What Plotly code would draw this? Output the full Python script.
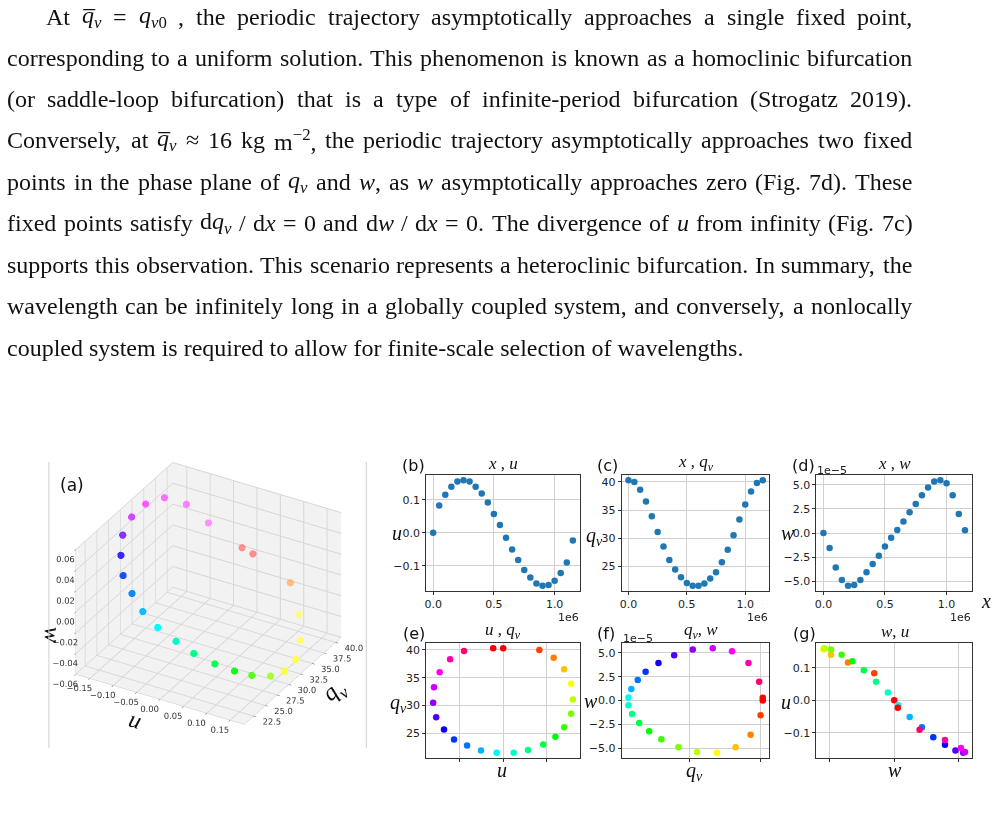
import re
import unicodedata
import colorsys
import plotly.graph_objects as go

W, H = 997, 824

# ---------------- data ----------------
x_pos = [0.0, 0.05, 0.10, 0.15, 0.20, 0.25, 0.30, 0.35, 0.40, 0.45, 0.50, 0.55,
         0.60, 0.65, 0.70, 0.75, 0.80, 0.85, 0.90, 0.95, 1.00, 1.05, 1.10, 1.15]  # x (×1e6)
u_vals = [0.000, 0.083, 0.116, 0.140, 0.156, 0.160, 0.156, 0.140, 0.120, 0.092, 0.057, 0.024,
          -0.015, -0.051, -0.083, -0.113, -0.136, -0.154, -0.161, -0.159, -0.146, -0.122, -0.090, -0.023]
qv_vals = [40.3, 40.0, 38.6, 36.5, 33.9, 31.1, 28.5, 26.1, 24.4, 23.0, 22.0, 21.5,
           21.5, 21.9, 22.8, 23.9, 25.7, 27.9, 30.5, 33.3, 36.0, 38.3, 39.8, 40.3]
w_vals = [0.00, -1.55, -3.59, -4.90, -5.49, -5.42, -4.90, -4.08, -3.24, -2.36, -1.41, -0.49,
          0.32, 1.20, 2.15, 3.03, 3.94, 4.75, 5.35, 5.49, 5.18, 3.94, 1.97, 0.28]  # w (×1e-5)
# w as drawn on the vertical axis of the 3D panel (a)
w_3d = [0.0000, -0.0155, -0.0359, -0.0490, -0.0549, -0.0542, -0.0490, -0.0408, -0.0324, -0.0236,
        -0.0141, -0.0049, 0.0032, 0.0120, 0.0215, 0.0303, 0.0394, 0.0475, 0.0535, 0.0549,
        0.0518, 0.0394, 0.0197, 0.0028]

u_ticks = [-0.15, -0.10, -0.05, 0.00, 0.05, 0.10, 0.15]
qv_ticks3d = [22.5, 25.0, 27.5, 30.0, 32.5, 35.0, 37.5, 40.0]
w_ticks3d = [-0.06, -0.04, -0.02, 0.00, 0.02, 0.04, 0.06]

paragraph = [
    "At <i>q\u0305<sub>v</sub></i> = <i>q<sub>v</sub></i><sub>0</sub> , the periodic trajectory asymptotically approaches a single fixed point,",
    "corresponding to a uniform solution. This phenomenon is known as a homoclinic bifurcation",
    "(or saddle-loop bifurcation) that is a type of infinite-period bifurcation (Strogatz 2019).",
    "Conversely, at <i>q\u0305<sub>v</sub></i> \u2248 16 kg m<sup>\u22122</sup>, the periodic trajectory asymptotically approaches two fixed",
    "points in the phase plane of <i>q<sub>v</sub></i> and <i>w</i>, as <i>w</i> asymptotically approaches zero (Fig. 7d). These",
    "fixed points satisfy d<i>q<sub>v</sub></i> / d<i>x</i> = 0 and d<i>w</i> / d<i>x</i> = 0. The divergence of <i>u</i> from infinity (Fig. 7c)",
    "supports this observation. This scenario represents a heteroclinic bifurcation. In summary, the",
    "wavelength can be infinitely long in a globally coupled system, and conversely, a nonlocally",
    "coupled system is required to allow for finite-scale selection of wavelengths.",
]

n = len(u_vals)
def hsv_color(i, alpha=1.0):
    h = i / (n - 1) * 0.97 if i < n - 1 else 0.0
    r, g, b = colorsys.hsv_to_rgb(h, 1.0, 1.0)
    return f"rgba({int(r*255)},{int(g*255)},{int(b*255)},{alpha})"
colors = [hsv_color(i) for i in range(n)]

U_RANGE = [-0.18, 0.18]
Q_RANGE = [20.5, 41.2]
W_RANGE = [-0.06, 0.06]

# depth shading for the 3D panel (points farther from the camera drawn lighter)
def norm(v, r):
    return (v - r[0]) / (r[1] - r[0])
depth = [-(0.433 * norm(u, U_RANGE) - 0.75 * norm(q, Q_RANGE) + 0.375 * norm(z, W_RANGE))
         for u, q, z in zip(u_vals, qv_vals, w_3d)]
dmin, dmax = min(depth), max(depth)
colors3d = [hsv_color(i, round(1.0 - 0.6 * (depth[i] - dmin) / (dmax - dmin), 2)) for i in range(n)]

def pad(vals, f=0.05):
    lo, hi = min(vals), max(vals)
    m = (hi - lo) * f
    return [lo - m, hi + m]

fig = go.Figure()

SERIF = "Liberation Serif"
SANS = "DejaVu Sans"
BLUE = "#1f77b4"

# ---------------- 2D panels ----------------
cols = [(425, 579), (621, 769), (816, 972)]
rows = [(475, 591), (643, 758)]

def dom_x(a, b):
    return [a / W, b / W]
def dom_y(top, bot):
    return [1 - bot / H, 1 - top / H]

panels = [
    (1, 0, 0, x_pos, u_vals, BLUE),
    (2, 1, 0, x_pos, qv_vals, BLUE),
    (3, 2, 0, x_pos, w_vals, BLUE),
    (4, 0, 1, u_vals, qv_vals, colors),
    (5, 1, 1, qv_vals, w_vals, colors),
    (6, 2, 1, w_vals, u_vals, colors),
]

axis_common = dict(showline=True, linecolor="#333", linewidth=1, mirror=True,
                   showgrid=True, gridcolor="#d0d0d0", gridwidth=1, zeroline=False,
                   ticks="outside", ticklen=3, tickcolor="#333",
                   tickfont=dict(family=SANS, size=11, color="#222"))

for idx, c, r, xd, yd, col in panels:
    xa = "x" if idx == 1 else f"x{idx}"
    ya = "y" if idx == 1 else f"y{idx}"
    fig.add_trace(go.Scatter(x=xd, y=yd, mode="markers", xaxis=xa, yaxis=ya,
                             marker=dict(size=6.5, color=col, line=dict(width=0)),
                             showlegend=False, hoverinfo="skip"))
    xk = "xaxis" if idx == 1 else f"xaxis{idx}"
    yk = "yaxis" if idx == 1 else f"yaxis{idx}"
    xopt = dict(axis_common, domain=dom_x(*cols[c]), range=pad(xd), anchor=ya)
    yopt = dict(axis_common, domain=dom_y(*rows[r]), range=pad(yd), anchor=xa)
    fig.update_layout({xk: xopt, yk: yopt})

for k in ["xaxis", "xaxis2", "xaxis3"]:
    fig.layout[k].update(tickvals=[0.0, 0.5, 1.0], tickformat=".1f")
fig.layout.xaxis4.update(tickvals=[-0.1, 0.0, 0.1], showticklabels=False)
fig.layout.xaxis5.update(tickvals=[20, 30, 40], showticklabels=False)
fig.layout.xaxis6.update(tickvals=[-5, 0, 5], showticklabels=False)
fig.layout.yaxis.update(tickvals=[-0.1, 0.0, 0.1], tickformat=".1f")
fig.layout.yaxis2.update(tickvals=[25, 30, 35, 40], tickformat="d")
fig.layout.yaxis3.update(tickvals=[-5, -2.5, 0, 2.5, 5], tickformat=".1f")
fig.layout.yaxis4.update(tickvals=[25, 30, 35, 40], tickformat="d")
fig.layout.yaxis5.update(tickvals=[-5, -2.5, 0, 2.5, 5], tickformat=".1f")
fig.layout.yaxis6.update(tickvals=[-0.1, 0.0, 0.1], tickformat=".1f")

# ---------------- 3D panel ----------------
fig.add_trace(go.Scatter3d(
    x=u_vals, y=qv_vals, z=w_3d, mode="markers",
    marker=dict(size=4.2, color=colors3d, line=dict(width=0)),
    showlegend=False, hoverinfo="skip", scene="scene"))

ax3 = dict(showbackground=True, backgroundcolor="rgb(242,242,242)", gridcolor="rgb(214,214,214)",
           zeroline=False, showspikes=False, ticks="outside", ticklen=3, tickangle=0,
           tickfont=dict(family=SANS, size=10, color="#333"), linecolor="rgb(200,200,200)")
ZOOM = 1.27
fig.update_layout(scene=dict(
    domain=dict(x=[18 / W, 396 / W], y=dom_y(447, 753)),
    xaxis=dict(ax3, title=dict(text="<i>u</i>", font=dict(family=SERIF, size=24, color="#111")),
               range=U_RANGE, tickvals=u_ticks, tickformat=".2f"),
    yaxis=dict(ax3, title=dict(text="<i>q<sub>v</sub></i>", font=dict(family=SERIF, size=24, color="#111")),
               range=Q_RANGE, tickvals=qv_ticks3d, tickformat=".1f"),
    zaxis=dict(ax3, title=dict(text="<i>w</i>", font=dict(family=SERIF, size=24, color="#111")),
               range=W_RANGE, tickvals=w_ticks3d, tickformat=".2f"),
    aspectmode="manual", aspectratio=dict(x=ZOOM, y=ZOOM, z=0.75 * ZOOM),
    camera=dict(eye=dict(x=0.95, y=-1.65, z=1.1), center=dict(x=0, y=0, z=-0.05),
                projection=dict(type="orthographic")),
    bgcolor="rgba(0,0,0,0)",
))

# ---------------- annotations ----------------
ann = []
def add(text, x, y, size, family, xanchor="center", yanchor="middle", color="#111"):
    ann.append(dict(text=text, x=x / W, y=1 - y / H, xref="paper", yref="paper",
                    xanchor=xanchor, yanchor=yanchor, showarrow=False, borderpad=0,
                    font=dict(family=family, size=size, color=color)))

# --- justified paragraph (word positions from Times-Roman advance widths) ---
TW = {' ': 250, '!': 333, ',': 250, '-': 333, '.': 250, '/': 278, ':': 278, ';': 278,
      '(': 333, ')': 333, '=': 564, '\u2248': 549, '\u2212': 564}
TW.update({d: 500 for d in "0123456789"})
TW.update(dict(zip("ABCDEFGHIJKLMNOPQRSTUVWXYZ",
                   [722, 667, 667, 722, 611, 556, 722, 722, 333, 389, 722, 611, 889, 722, 722,
                    556, 722, 667, 556, 611, 722, 722, 944, 722, 722, 611])))
TW.update(dict(zip("abcdefghijklmnopqrstuvwxyz",
                   [444, 500, 444, 500, 444, 333, 500, 500, 278, 278, 500, 278, 778, 500, 500,
                    500, 500, 333, 389, 278, 500, 500, 722, 500, 500, 444])))
ITW = {'q': 500, 'v': 444, 'w': 667, 'x': 444, 'u': 500}

def text_width(s, fs):
    w, scale, italic = 0.0, 1.0, False
    for part in re.split(r'(<[^>]+>)', s):
        if not part:
            continue
        if part.startswith('<'):
            closing = part.startswith('</')
            tag = part.strip('<>/')
            if tag in ('sub', 'sup'):
                scale = 1.0 if closing else 0.7
            elif tag == 'i':
                italic = not closing
            continue
        for ch in part:
            if unicodedata.combining(ch):
                continue
            cw = ITW.get(ch) if italic and ch in ITW else TW.get(ch, 500)
            w += cw * scale
    return w / 1000 * fs

FS = 24
RIGHT = 911
line_y = [17, 58, 99, 140, 182, 223, 265, 306, 348]
for i, (t, y) in enumerate(zip(paragraph, line_y)):
    start = 43 if i == 0 else 4
    if i == len(paragraph) - 1:
        add(t, start, y, FS, SERIF, xanchor="left")
        continue
    words = t.split(" ")
    ws = [text_width(wd, FS) for wd in words]
    gap = (RIGHT - start - sum(ws)) / (len(words) - 1)
    xx = start
    for wd, wdw in zip(words, ws):
        add(wd, xx, y, FS, SERIF, xanchor="left")
        xx += wdw + gap

# panel labels
add("(a)", 70, 485, 17, SANS)
add("(b)", 412, 465, 16, SANS)
add("(c)", 607, 465, 16, SANS)
add("(d)", 803, 465, 16, SANS)
add("(e)", 413, 633, 16, SANS)
add("(f)", 605, 633, 16, SANS)
add("(g)", 804, 633, 16, SANS)

# titles
add("<i>x</i> , <i>u</i>", 502, 463, 17, SERIF)
add("<i>x</i> , <i>q<sub>v</sub></i>", 695, 463, 17, SERIF)
add("<i>x</i> , <i>w</i>", 894, 463, 17, SERIF)
add("<i>u</i> , <i>q<sub>v</sub></i>", 502, 631, 17, SERIF)
add("<i>q<sub>v</sub></i>, <i>w</i>", 700, 631, 17, SERIF)
add("<i>w</i>, <i>u</i>", 895, 631, 17, SERIF)

# y labels
add("<i>u</i>", 396, 533, 20, SERIF)
add("<i>q<sub>v</sub></i>", 594, 536, 20, SERIF)
add("<i>w</i>", 788, 533, 20, SERIF)
add("<i>q<sub>v</sub></i>", 397, 703, 20, SERIF)
add("<i>w</i>", 590, 701, 20, SERIF)
add("<i>u</i>", 786, 702, 20, SERIF)

# x labels
add("<i>x</i>", 986, 601, 20, SERIF)
add("<i>u</i>", 501, 770, 20, SERIF)
add("<i>q<sub>v</sub></i>", 694, 771, 20, SERIF)
add("<i>w</i>", 895, 770, 20, SERIF)

# offset texts
add("1e6", 579, 617, 11, SANS, xanchor="right", color="#222")
add("1e6", 769, 617, 11, SANS, xanchor="right", color="#222")
add("1e6", 972, 617, 11, SANS, xanchor="right", color="#222")
add("1e\u22125", 816, 470, 11, SANS, xanchor="left", color="#222")
add("1e\u22125", 621, 638, 11, SANS, xanchor="left", color="#222")

fig.update_layout(annotations=ann)

fig.update_layout(shapes=[
    dict(type="line", xref="paper", yref="paper", x0=47 / W, x1=47 / W, y0=1 - 748 / H, y1=1 - 462 / H,
         line=dict(color="#cfcfcf", width=1)),
    dict(type="line", xref="paper", yref="paper", x0=365 / W, x1=365 / W, y0=1 - 748 / H, y1=1 - 462 / H,
         line=dict(color="#cfcfcf", width=1)),
])

fig.update_layout(width=W, height=H, margin=dict(l=0, r=0, t=0, b=0),
                  paper_bgcolor="white", plot_bgcolor="white", showlegend=False)

fig.write_html("out.html")
